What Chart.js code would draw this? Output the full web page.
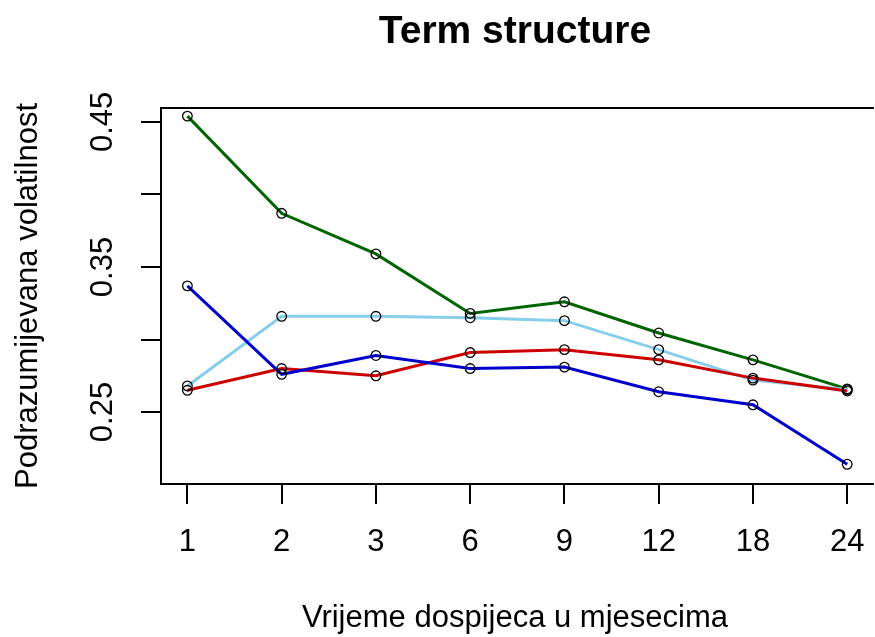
<!DOCTYPE html>
<html>
<head>
<meta charset="utf-8">
<script src="https://cdn.jsdelivr.net/npm/chart.js@4"></script>
<style>
  html, body { margin: 0; padding: 0; overflow: hidden; background: #fff; }
  canvas { display: block; }
</style>
</head>
<body>
<canvas id="chart_term" width="875" height="637"></canvas>
<script>
// dospijeca (mjeseci) i volatilnosti po seriji
const maturities = ['1', '2', '3', '6', '9', '12', '18', '24'];
const volGreen = [0.454, 0.387, 0.359, 0.318, 0.326, 0.3045, 0.286, 0.266];
const volSkyblue = [0.268, 0.316, 0.316, 0.315, 0.313, 0.293, 0.272, 0.2655];
const volBlue = [0.337, 0.276, 0.289, 0.280, 0.281, 0.264, 0.255, 0.214];
const volRed = [0.265, 0.280, 0.275, 0.291, 0.293, 0.286, 0.2734, 0.2645];

const yTickValues = [0.25, 0.30, 0.35, 0.40, 0.45];
const yTickLabels = ['0.25', '', '0.35', '', '0.45'];

const FONT = "'Liberation Sans', Arial, sans-serif";

function toPoints(values) {
  return values.map((v, i) => ({ x: i, y: v }));
}

function lineDataset(values, color, order) {
  return {
    data: toPoints(values),
    borderColor: color,
    borderWidth: 3,
    pointRadius: 0,
    fill: false,
    tension: 0,
    order: order,
  };
}

function pointDataset(values) {
  return {
    data: toPoints(values),
    showLine: false,
    pointRadius: 4.8,
    pointBorderWidth: 1.3,
    pointBorderColor: '#000',
    pointBackgroundColor: 'rgba(0,0,0,0)',
    order: 0,
  };
}

// okvir oko podrucja grafa (desna strana je izvan slike)
const boxPlugin = {
  id: 'box',
  beforeDatasetsDraw(chart) {
    const { ctx, chartArea: a } = chart;
    ctx.save();
    ctx.strokeStyle = '#000';
    ctx.lineWidth = 2;
    ctx.beginPath();
    ctx.moveTo(a.right + 5, a.top);
    ctx.lineTo(a.left, a.top);
    ctx.lineTo(a.left, a.bottom);
    ctx.lineTo(a.right + 5, a.bottom);
    ctx.stroke();
    ctx.restore();
  }
};

new Chart(document.getElementById('chart_term'), {
  type: 'line',
  data: {
    datasets: [
      lineDataset(volGreen, '#006400', 5),
      lineDataset(volSkyblue, '#87CEEB', 4),
      lineDataset(volRed, '#CD0000', 3),
      lineDataset(volBlue, '#0000CD', 2),
      pointDataset(volGreen),
      pointDataset(volSkyblue),
      pointDataset(volRed),
      pointDataset(volBlue),
    ],
  },
  options: {
    responsive: false,
    animation: false,
    devicePixelRatio: 1,
    layout: { padding: 0 },
    plugins: {
      legend: { display: false },
      tooltip: { enabled: false },
      title: {
        display: true,
        text: 'Term structure',
        color: '#000',
        fullSize: false,
        font: { family: FONT, size: 39, weight: 'bold' },
        padding: { top: 9, bottom: 52.2 },
      },
    },
    scales: {
      x: {
        type: 'linear',
        min: -0.28,
        max: 7.23,
        afterBuildTicks: (scale) => {
          scale.ticks = maturities.map((m, i) => ({ value: i }));
        },
        afterFit: (scale) => {
          scale.height = 153;
          scale.paddingLeft = 0;
          scale.paddingRight = 0;
        },
        grid: { drawOnChartArea: false, tickLength: 20, color: '#000', lineWidth: 2 },
        border: { display: false },
        ticks: {
          autoSkip: false,
          maxRotation: 0,
          padding: 19.5,
          color: '#000',
          font: { family: FONT, size: 31 },
          callback: (value) => maturities[value],
        },
        title: {
          display: true,
          text: 'Vrijeme dospijeca u mjesecima',
          color: '#000',
          font: { family: FONT, size: 31 },
          padding: { top: 0, bottom: 0 },
        },
      },
      y: {
        type: 'linear',
        min: 0.2004,
        max: 0.4596,
        afterBuildTicks: (scale) => {
          scale.ticks = yTickValues.map((v) => ({ value: v }));
        },
        afterFit: (scale) => {
          scale.width = 161;
          scale.paddingTop = 0;
          scale.paddingBottom = 0;
        },
        grid: { drawOnChartArea: false, tickLength: 20, color: '#000', lineWidth: 2 },
        border: { display: false },
        ticks: {
          autoSkip: false,
          minRotation: 90,
          maxRotation: 90,
          crossAlign: 'center',
          padding: 7.5,
          color: '#000',
          font: { family: FONT, size: 31 },
          callback: (value, index) => yTickLabels[index],
        },
        title: {
          display: true,
          text: 'Podrazumijevana volatilnost',
          color: '#000',
          font: { family: FONT, size: 31 },
          padding: { top: 9.4, bottom: 0 },
        },
      },
    },
  },
  plugins: [boxPlugin],
});
</script>
</body>
</html>
